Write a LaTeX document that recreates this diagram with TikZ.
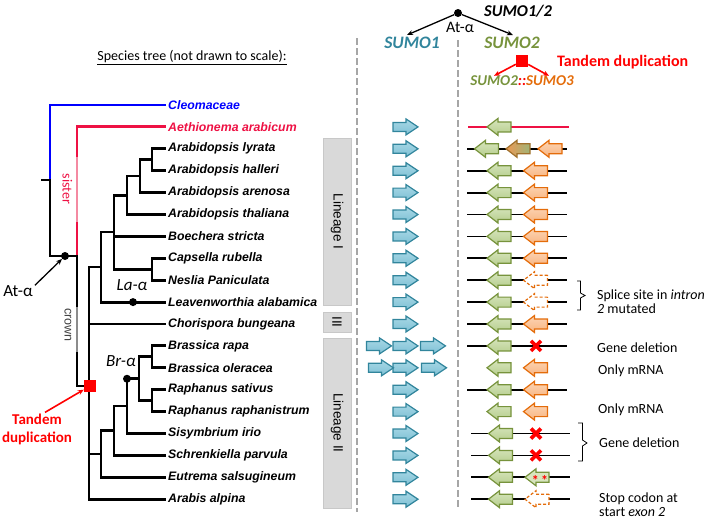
\documentclass[tikz,border=0pt]{standalone}
\usepackage{fontspec}
\setmainfont{Carlito}
\newfontfamily\arialf{Liberation Sans}
\usetikzlibrary{calc,arrows.meta}
\definecolor{sumoblue}{HTML}{31859C}
\definecolor{sumogreen}{HTML}{77933C}
\definecolor{sumoorange}{HTML}{E46C0A}
\definecolor{cleoblue}{HTML}{0000FF}
\definecolor{aethred}{HTML}{EE1144}
\definecolor{sisterpink}{HTML}{F48AA2}
\definecolor{tandemred}{HTML}{FF0000}
\definecolor{dashgray}{HTML}{A6A6A6}
\definecolor{boxgray}{HTML}{D9D9D9}
\definecolor{boxedge}{HTML}{C8C8C8}
\definecolor{blueA}{HTML}{A8D8E6}
\definecolor{blueB}{HTML}{7EC0D4}
\definecolor{greenA}{HTML}{D7E5BD}
\definecolor{greenB}{HTML}{B5CD8C}
\definecolor{orangeA}{HTML}{FCD5B5}
\definecolor{orangeB}{HTML}{F8B480}
\definecolor{mixbrown}{HTML}{A0702C}
\definecolor{crowngray}{HTML}{8C8C8C}
\tikzset{
  rarr/.pic={\path[pic actions] (-12.5,-4.5) -- (0.5,-4.5) -- (0.5,-8) -- (12.5,0) -- (0.5,8) -- (0.5,4.5) -- (-12.5,4.5) -- cycle;},
  larr/.pic={\path[pic actions] (12,-5) -- (-1,-5) -- (-1,-8.5) -- (-12,0) -- (-1,8.5) -- (-1,5) -- (12,5) -- cycle;},
  sumoonearr/.style={draw=sumoblue, line width=1.2pt, top color=blueA, bottom color=blueB},
  greenarr/.style={draw=sumogreen, line width=1.2pt, top color=greenA, bottom color=greenB},
  orangearr/.style={draw=sumoorange, line width=1.2pt, top color=orangeA, bottom color=orangeB},
  dashorange/.style={draw=sumoorange, line width=1.2pt, dash pattern=on 3pt off 2pt, fill=white},
  mixarr/.style={draw=mixbrown, line width=1.2pt, left color=sumoorange!70, right color=sumogreen!70},
  eutarr/.style={draw=sumogreen, line width=1.2pt, fill=greenA},
  tree/.style={line width=2.9pt, line cap=rect},
  geneline/.style={line width=1.8pt},
  dashline/.style={draw=dashgray, line width=2.6pt, dash pattern=on 7pt off 3pt},
  dotn/.style={circle, fill=black, inner sep=0pt, minimum size=8pt},
  redsq/.style={fill=tandemred, inner sep=0pt, minimum size=12pt},
  lbox/.style={fill=boxgray, draw=boxedge, line width=0.6pt, rotate=-90, inner sep=0pt, font=\arialf\fontsize{13.5}{15}\selectfont},
  spname/.style={anchor=west, inner sep=0pt, font=\arialf\bfseries\itshape\fontsize{12.3}{14}\selectfont},
  ann/.style={anchor=west, inner sep=0pt, align=left, font=\fontsize{14}{14.5}\selectfont},
  blkarr/.style={-{Stealth[length=6pt,width=5pt]}, line width=1.3pt},
  redarr/.style={-{Stealth[length=6pt,width=5pt]}, line width=1.6pt, tandemred},
  xmark/.style={line width=3.6pt, tandemred},
}
\begin{document}
\begin{tikzpicture}[x=1pt,y=-1pt,line join=miter]
\useasboundingbox (0,0) rectangle (709,520);

% header
\node[font=\fontsize{14}{16}\selectfont, inner sep=0pt] (hdr) at (192,58) {\underline{Species tree (not drawn to scale):}};

% leaf coordinates
\foreach \i in {0,...,18} { \coordinate (l\i) at (165,{105+21.9*\i}); }

% species names
\node[spname, text=cleoblue] (sp0) at (168,105) {Cleomaceae};
\node[spname, text=aethred] (sp1) at (168,126.9) {Aethionema arabicum};
\foreach \i/\nm in {2/Arabidopsis lyrata,3/Arabidopsis halleri,4/Arabidopsis arenosa,5/Arabidopsis thaliana,6/Boechera stricta,7/Capsella rubella,8/Neslia Paniculata,9/Leavenworthia alabamica,10/Chorispora bungeana,11/Brassica rapa,12/Brassica oleracea,13/Raphanus sativus,14/Raphanus raphanistrum,15/Sisymbrium irio,16/Schrenkiella parvula,17/Eutrema salsugineum,18/Arabis alpina}
  { \node[spname] (sp\i) at (168,{105+21.9*\i}) {\nm}; }

% internal nodes
\coordinate (root) at (50,180);
\coordinate (rootstub) at (42,180);
\coordinate (brass) at (77,256);
\coordinate (crown) at (89,386);
\coordinate (L1) at (101,267);
\coordinate (n1) at (114,232);
\coordinate (n2) at (127,195.25);
\coordinate (n4) at (140,176);
\coordinate (n5) at (152,159.75);
\coordinate (n3) at (152,269.25);
\coordinate (L2) at (101,454);
\coordinate (m1) at (114,430.7);
\coordinate (m2) at (127,406);
\coordinate (m3) at (139,378.75);
\coordinate (m4) at (152,356.85);
\coordinate (m5) at (152,400.65);

% tree
\draw[tree, cleoblue] (root) |- (l0);
\draw[tree] (rootstub) -- (root) |- (brass);
\draw[tree, aethred] (brass) |- (l1);
\draw[line width=2.9pt, sisterpink] (77,157) -- (77,222);
\draw[tree] (brass) |- (crown);
\draw[line width=2.9pt, crowngray] (77,307) -- (77,352);
\draw[tree] (crown) |- (L1) (crown) |- (l10) (crown) |- (L2) (crown) |- (l18);
\draw[tree] (L1) |- (n1) (L1) |- (l9);
\draw[tree] (n1) |- (n2) (n1) |- (l6) (n1) |- (n3);
\draw[tree] (n2) |- (n4) (n2) |- (l5);
\draw[tree] (n4) |- (n5) (n4) |- (l4);
\draw[tree] (n5) |- (l2) (n5) |- (l3);
\draw[tree] (n3) |- (l7) (n3) |- (l8);
\draw[tree] (L2) |- (m1) (L2) |- (l17);
\draw[tree] (m1) |- (m2) (m1) |- (l16);
\draw[tree] (m2) |- (m3) (m2) |- (l15);
\draw[tree] (m3) |- (m4) (m3) |- (m5);
\draw[tree] (m4) |- (l11) (m4) |- (l12);
\draw[tree] (m5) |- (l13) (m5) |- (l14);

\node[dotn] (dAt) at (65,256) {};
\node[dotn] (dLa) at (133,302.1) {};
\node[dotn] (dBr) at (127,378.75) {};
\node[redsq] (tdsq) at (90,386) {};

% tree labels
\node[font=\fontsize{17}{19}\selectfont, inner sep=0pt] (atal) at (18,291) {At-α};
\draw[blkarr] ([xshift=2pt]atal.north east) -- (dAt);
\node[font=\itshape\fontsize{17}{19}\selectfont, inner sep=0pt] (laal) at (132,285) {La-α};
\node[font=\itshape\fontsize{17}{19}\selectfont, inner sep=0pt] (bral) at (121,361) {Br-α};
\node[rotate=-90, text=aethred, font=\fontsize{14}{15}\selectfont, inner sep=0pt] (sis) at (67.5,189) {sister};
\node[rotate=-90, text=black!75, font=\arialf\fontsize{12.5}{14}\selectfont, inner sep=0pt] (crw) at (68,325) {crown};
\node[align=center, text=tandemred, font=\bfseries\fontsize{15}{18}\selectfont, inner sep=0pt] (tdl) at (37,429) {Tandem\\duplication};
\draw[redarr] ([xshift=8pt,yshift=1pt]tdl.north) -- (tdsq);

% lineage boxes
\node[lbox, minimum width=167pt, minimum height=28pt] (lin1) at (337,221.5) {Lineage I};
\node[lbox, minimum width=20pt, minimum height=28pt] (lin3) at (337,322) {III};
\node[lbox, minimum width=170pt, minimum height=28pt] (lin2) at (337,423) {Lineage II};

% dashed separators
\draw[dashline] (357,38) -- (357,512);
\draw[dashline] (458,40) -- (458,510);

% top labels
\node[dotn] (topdot) at (458,13) {};
\node[font=\bfseries\itshape\fontsize{16.5}{18}\selectfont, inner sep=0pt] (s12) at (518,11) {SUMO1/2};
\node[font=\fontsize{16}{18}\selectfont, inner sep=0pt] (attop) at (460,27) {At-α};
\node[text=sumoblue, font=\bfseries\itshape\fontsize{17.5}{19}\selectfont, inner sep=0pt] (s1) at (412,43) {SUMO1};
\node[text=sumogreen, font=\bfseries\itshape\fontsize{17.5}{19}\selectfont, inner sep=0pt] (s2) at (512,43) {SUMO2};
\draw[blkarr] (topdot) -- ($(s1.north)+(-5,-2)$);
\draw[blkarr] (topdot) -- ($(s2.north)+(1,-2)$);
\node[redsq] (tdsq2) at (522,61) {};
\node[anchor=west, text=tandemred, font=\bfseries\fontsize{16}{18}\selectfont, inner sep=0pt] (tdtop) at (557,62) {Tandem duplication};
\node[font=\bfseries\itshape\fontsize{15}{18}\selectfont, inner sep=0pt] (s23) at (522,81) {\textcolor{sumogreen}{SUMO2}\textcolor{tandemred}{::}\textcolor{sumoorange}{SUMO3}};
\draw[redarr] (tdsq2) -- ($(s23.north)+(-28,0)$);
\draw[redarr] (tdsq2) -- ($(s23.north)+(27,0)$);

% SUMO1 arrows
\foreach \i in {1,...,18} { \pic[sumoonearr] at (405.5,{105+21.9*\i}) {rarr}; }
\pic[sumoonearr] at (379,345.9) {rarr};
\pic[sumoonearr] at (433,345.9) {rarr};
\pic[sumoonearr] at (381,367.8) {rarr};
\pic[sumoonearr] at (434,367.8) {rarr};

% SUMO2/3 loci
\draw[geneline, aethred] (468,126.9) -- (569,126.9);
\foreach \i in {2,...,11,13} { \draw[geneline] (467,{105+21.9*\i}) -- (567,{105+21.9*\i}); }
\foreach \i in {15,...,18} { \draw[geneline] (471,{105+21.9*\i}) -- (570,{105+21.9*\i}); }
\pic[greenarr] at (499,126.9) {larr};
\pic[greenarr] at (486.5,148.8) {larr};
\pic[mixarr] at (518,148.8) {larr};
\pic[orangearr] at (550,148.8) {larr};
\foreach \i in {3,...,14} { \pic[greenarr] at (499,{105+21.9*\i}) {larr}; }
\foreach \i in {15,...,18} { \pic[greenarr] at (500.5,{105+21.9*\i}) {larr}; }
\foreach \i in {3,4,5,6,7,10,12,13,14} { \pic[orangearr] at (535.5,{105+21.9*\i}) {larr}; }
\foreach \i in {8,9} { \pic[dashorange] at (535.5,{105+21.9*\i}) {larr}; }
\pic[dashorange] at (537,499.2) {larr};
\pic[eutarr] at (537,477.3) {larr};
\node[text=tandemred, font=\bfseries\fontsize{14}{14}\selectfont, inner sep=0pt] (ast) at (540,480) {*\,*};
\foreach \yy in {345.9,433.5,455.4} { \draw[xmark] (531,\yy-5) -- (541,\yy+5) (531,\yy+5) -- (541,\yy-5); }

% annotations
\draw[line width=0.8pt] (577,281) -- (580.5,281) -- (580.5,293) -- (585,295.5) -- (580.5,298) -- (580.5,310) -- (577,310);
\node[ann] (splice) at (597,301.5) {Splice site in \textit{intron}\\\textit{2} mutated};
\node[ann] (gd1) at (597,347.5) {Gene deletion};
\node[ann] (om1) at (598,371) {Only mRNA};
\node[ann] (om2) at (598,410) {Only mRNA};
\draw[line width=0.8pt] (578,423) -- (582.5,423) -- (582.5,440) -- (587,443) -- (582.5,446) -- (582.5,461) -- (578,461);
\node[ann] (gd2) at (599,443) {Gene deletion};
\node[ann] (stop) at (599,504.5) {Stop codon at\\start \textit{exon 2}};
\end{tikzpicture}
\end{document}
